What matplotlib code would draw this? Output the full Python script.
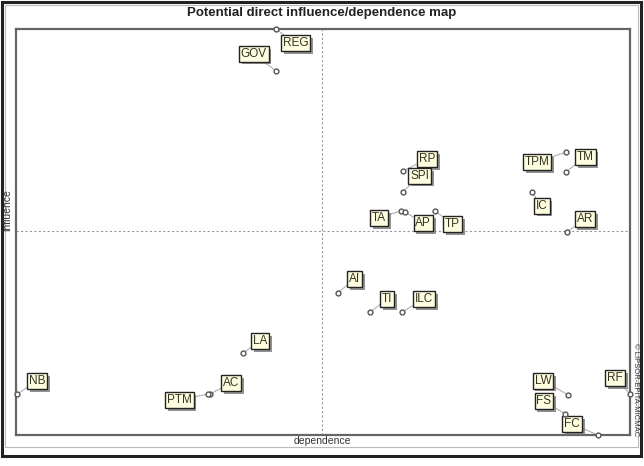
import matplotlib
matplotlib.use("Agg")
import matplotlib.pyplot as plt
from matplotlib.patches import Rectangle
import matplotlib.patheffects as pe

plt.rcParams['font.family'] = ['Liberation Sans', 'DejaVu Sans']

# variables, dependence (x) and influence (y)
labels = ["REG", "GOV", "RP", "SPI", "TA", "AP", "TP", "TPM", "TM", "IC", "AR",
          "AI", "TI", "ILC", "LA", "NB", "AC", "PTM", "LW", "FS", "FC", "RF"]
dependence = [423, 423, 630, 630, 627, 634, 682, 896, 896, 840, 897,
              524, 577, 629, 370, 2, 316, 313, 899, 894, 948, 1000]
influence = [1000, 897, 650, 599, 552, 549, 552, 697, 648, 599, 500,
             350, 303, 303, 202, 101, 101, 101, 99, 52, 0, 101]
dep_mean = 498
inf_mean = 502

# label offsets in pixels (dx right, dy down)
offsets = [(20, 14), (-22, -17), (24, -12), (17, -16), (-22, 7), (18, 11), (18, 13),
           (-29, 10), (19, -15), (10, 14), (18, -13), (17, -14), (17, -13), (22, -13),
           (17, -12), (20, -13), (21, -11), (-29, 6), (-25, -14), (-21, -13),
           (-26, -11), (-15, -16)]

W, H = 644, 466
fig = plt.figure(figsize=(W / 100, H / 100), dpi=100)

# outer window frame
fig.patches.append(Rectangle((2 / W, 10 / H), 639 / W, 454 / H, transform=fig.transFigure,
                             fill=False, edgecolor="#222222", linewidth=2.2))
fig.patches.append(Rectangle((5 / W, 19 / H), 633 / W, 442 / H, transform=fig.transFigure,
                             fill=False, edgecolor="#bbbbbb", linewidth=0.8))

ax = fig.add_axes([16 / W, 31 / H, 614 / W, 406 / H])
ax.set_xlim(0, 1000)
ax.set_ylim(0, 1000)
ax.set_xticks([])
ax.set_yticks([])
for s in ax.spines.values():
    s.set_color("#666666")
    s.set_linewidth(1.6)

ax.axvline(dep_mean, color="#999999", linestyle=(0, (2, 2)), linewidth=0.8)
ax.axhline(inf_mean, color="#999999", linestyle=(0, (2, 2)), linewidth=0.8)

for name, x, y, (dx, dy) in zip(labels, dependence, influence, offsets):
    ax.annotate(name, xy=(x, y), xytext=(dx * 0.72, -dy * 0.72),
                textcoords="offset points", ha="center", va="center",
                fontsize=8.5, color="#333322", annotation_clip=False,
                bbox=dict(boxstyle="square,pad=0.16", fc="#fffde0", ec="#222222", lw=1.0,
                          path_effects=[pe.withSimplePatchShadow(offset=(2, -2),
                                                                 shadow_rgbFace="#777777",
                                                                 alpha=0.8)]),
                arrowprops=dict(arrowstyle="-", color="#aaaaaa", lw=0.9,
                                linestyle=(0, (1, 1)), shrinkA=0, shrinkB=2))
    ax.plot(x, y, marker="o", ms=3.5, mfc="white", mec="#555555", mew=1.0,
            clip_on=False, zorder=5)

fig.text(322 / W, 1 - 13 / H, "Potential direct influence/dependence map",
         ha="center", va="center", fontsize=9.5, fontweight="bold", color="#222222")
fig.text(322 / W, 1 - 441 / H, "dependence", ha="center", va="center",
         fontsize=7.5, color="#333333")
fig.text(7 / W, 1 - 210 / H, "influence", ha="center", va="center",
         fontsize=7.5, color="#333333", rotation=90)
fig.text(636 / W, 1 - 390 / H, "\u00a9 LIPSOR-EPITA-MICMAC", ha="center", va="center",
         fontsize=5.5, color="#333333", rotation=-90)

fig.savefig("out.png", dpi=100)
